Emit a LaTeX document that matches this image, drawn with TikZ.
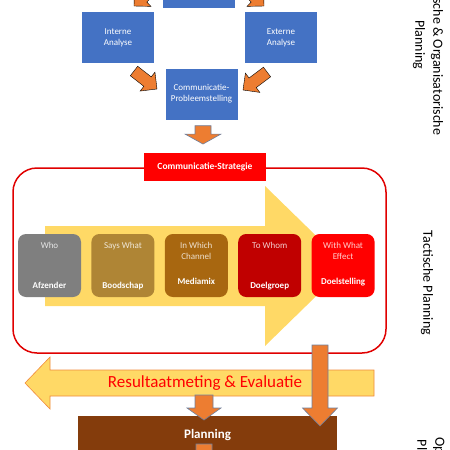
\documentclass[tikz,border=0pt]{standalone}
\usepackage{fontspec}
\setmainfont{Carlito}
\usetikzlibrary{calc,positioning}
\definecolor{boxblue}{HTML}{4472C4}
\definecolor{arrorange}{HTML}{ED7D31}
\definecolor{arredge}{HTML}{6F7F9C}
\definecolor{bandyellow}{HTML}{FFD966}
\definecolor{evaledge}{HTML}{F08A3C}
\definecolor{stratred}{HTML}{FF0000}
\definecolor{framered}{HTML}{E00000}
\definecolor{whogray}{HTML}{7F7F7F}
\definecolor{whatgold}{HTML}{AF8535}
\definecolor{chanbrown}{HTML}{A86710}
\definecolor{whomred}{HTML}{C00000}
\definecolor{planbrown}{HTML}{843C0C}
\tikzset{
    bluebox/.style={
        fill=boxblue, text=white, align=center,
        minimum width=72pt, minimum height=51pt, inner sep=1pt,
        font=\fontsize{9}{11}\selectfont
    },
    stepbox/.style={
        rounded corners=8pt, minimum width=63pt, minimum height=63pt
    },
    steptop/.style={
        anchor=north, text=white, text opacity=0.8, align=center,
        font=\fontsize{9}{11}\selectfont
    },
    stepbot/.style={
        anchor=base, text=white, font=\bfseries\fontsize{9}{11}\selectfont
    },
    sidelab/.style={
        rotate=-90, align=center, font=\fontsize{14}{18}\selectfont
    },
    blockarr/.style={fill=arrorange},
    edged/.style={draw=arredge, line width=0.6pt}
}
% block arrow: [style]{from}{to}{half shaft}{half head}{head length}, in pt
\newcommand{\blockarrow}[6][]{%
    \coordinate (hb) at ($(#3)!#6pt!(#2)$);
    \draw[blockarr,#1] ($(#2)!#4pt!90:(#3)$) -- ($(hb)!#4pt!90:(#3)$)
        -- ($(hb)!#5pt!90:(#3)$) -- (#3) -- ($(hb)!#5pt!-90:(#3)$)
        -- ($(hb)!#4pt!-90:(#3)$) -- ($(#2)!#4pt!-90:(#3)$) -- cycle;
}
% top and bottom text of a step box
\newcommand{\steplab}[4]{%
    \node[steptop] (#1-q) at ($(#1.north)+(0,5)$) {#2};
    \node[stepbot] (#1-a) at ($(#1.south)+(0,-#4)$) {#3};
}

\begin{document}
\begin{tikzpicture}[x=1pt,y=-1pt,line join=miter]
    \useasboundingbox (0,0) rectangle (450,450);
    \clip (0,0) rectangle (450,450);

% --- strategic part ---
    \node[bluebox] (topbox) at (199,-18) {};
    \node[bluebox] (intern) at (118,37.5) {Interne\\Analyse};
    \node[bluebox] (extern) at (281,37.5) {Externe\\Analyse};
    \node[bluebox] (probl)  at (201.5,94) {Communicatie-\\Probleemstelling};

    \coordinate (tl1) at (157,-16);
    \coordinate (tl2) at (134,6);
    \coordinate (tr1) at (241,-16);
    \coordinate (tr2) at (264,6);
    \blockarrow{tl1}{tl2}{6}{12}{12}
    \blockarrow{tr1}{tr2}{6}{12}{12}

    \coordinate (il1) at (134,71);
    \coordinate (il2) at (157,89);
    \coordinate (el1) at (267,72);
    \coordinate (el2) at (243,90);
    \blockarrow{il1}{il2}{6}{12}{12}
    \blockarrow{el1}{el2}{6}{12}{12}

% --- tactical frame ---
    \node[draw=framered, line width=1.5pt, rounded corners=24pt,
          minimum width=373pt, minimum height=185pt] (tact) at (199.5,260.5) {};
    \node[fill=stratred, text=white, minimum width=122pt, minimum height=28pt,
          font=\bfseries\fontsize{9.5}{11}\selectfont] (strat) at ($(tact.north)+(5.5,0)$)
          {Communicatie-Strategie};

    \coordinate (pa1) at ($(probl.south)+(1.5,6)$);
    \coordinate (pa2) at ($(pa1|-strat.north)+(0,-9)$);
    \blockarrow[edged]{pa1}{pa2}{8}{18}{10}

% yellow band
    \fill[bandyellow] (45,226) -- (265,226) -- (265,186) -- (347,266)
        -- (265,346) -- (265,306) -- (45,306) -- cycle;

% steps
    \node[stepbox, fill=whogray] (who) at (49.5,265.5) {};
    \node[stepbox, fill=whatgold, right=10pt of who] (what) {};
    \node[stepbox, fill=chanbrown, right=10pt of what] (chan) {};
    \node[stepbox, fill=whomred, right=10pt of chan] (whom) {};
    \node[stepbox, fill=stratred, right=10pt of whom] (effect) {};
    \steplab{who}{Who}{Afzender}{9}
    \steplab{what}{Says What}{Boodschap}{9}
    \steplab{chan}{In Which\\Channel}{Mediamix}{13}
    \steplab{whom}{To Whom}{Doelgroep}{9}
    \steplab{effect}{With What\\Effect}{Doelstelling}{13}

% --- evaluation ---
    \coordinate (ev1) at (374,383);
    \coordinate (ev2) at (25,383);
    \blockarrow[fill=bandyellow, draw=evaledge, line width=0.6pt]{ev1}{ev2}{13}{26}{25}
    \node[text=stratred, font=\fontsize{17}{20}\selectfont] (eval) at (205,383)
        {Resultaatmeting \& Evaluatie};

% --- operational ---
    \node[fill=planbrown, text=white, minimum width=259pt, minimum height=38pt,
          font=\bfseries\fontsize{13}{16}\selectfont] (plan) at (207.5,435) {Planning};

    \coordinate (ra1) at (204,395);
    \coordinate (ra2) at (204,420);
    \blockarrow[edged]{ra1}{ra2}{9}{17}{12}

    \coordinate (la1) at (320,345);
    \coordinate (la2) at (320,426);
    \blockarrow[edged]{la1}{la2}{8}{17.5}{18}

    \coordinate (pl1) at (204,444);
    \coordinate (pl2) at (204,480);
    \blockarrow[edged]{pl1}{pl2}{8}{17}{12}

% side labels
    \node[sidelab] (strat-lab) at (428,45) {Strategische \& Organisatorische\\Planning};
    \node[sidelab] (tact-lab) at (427,283) {Tactische Planning};
    \node[sidelab, align=left, anchor=west] (oper-lab) at (430,434) {Operationele\\\,Planning};

\end{tikzpicture}
\end{document}
